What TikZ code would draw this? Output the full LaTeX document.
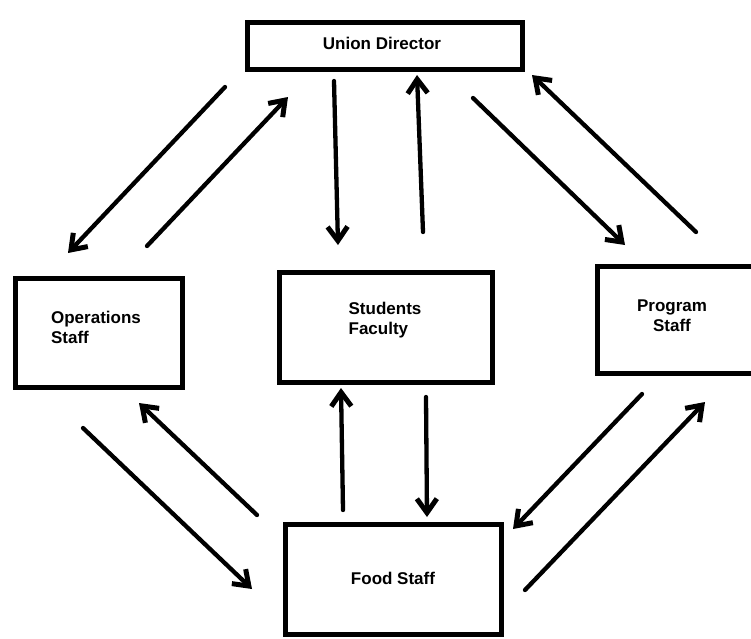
\documentclass[tikz,border=0pt]{standalone}
\usepackage{fontspec}
\setmainfont{Liberation Sans}
\usetikzlibrary{arrows.meta}
\begin{document}
\begin{tikzpicture}[x=1pt,y=-1pt,
  box/.style={draw=black, line width=5pt, fill=white, inner sep=0pt, anchor=north west},
  lbl/.style={font=\fontsize{17}{20}\selectfont\bfseries, inner sep=0pt},
  flow/.style={line width=4.3pt, line cap=round, -{Straight Barb[length=14pt,width=20pt,line width=5pt]}}]
\useasboundingbox (0,0) rectangle (751,638);
% boxes
\node[box, minimum width=275pt, minimum height=47pt] (ud) at (245,20) {};
\node[box, minimum width=167pt, minimum height=109pt] (ops) at (13,276) {};
\node[box, minimum width=213pt, minimum height=110pt] (sf) at (277,270) {};
\node[box, minimum width=165pt, minimum height=107pt] (prog) at (595,264) {};
\node[box, minimum width=216pt, minimum height=110pt] (food) at (283,522) {};
% labels
\node[lbl] (udt) at (382,43) {Union Director};
\node[lbl, align=left] (opst) at (96,327) {Operations\\Staff};
\node[lbl, align=left] (sft) at (385,320) {Students\\Faculty};
\node[lbl, align=center] (progt) at (672,316) {Program\\Staff};
\node[lbl] (foodt) at (393,578) {Food Staff};
% arrow end points
\coordinate (a1s) at (225,87);  \coordinate (a1e) at (68,253);
\coordinate (a2s) at (147,246); \coordinate (a2e) at (288,97);
\coordinate (a3s) at (334,81);  \coordinate (a3e) at (338,245);
\coordinate (a4s) at (423,232); \coordinate (a4e) at (417,75);
\coordinate (a5s) at (473,98);  \coordinate (a5e) at (625,245);
\coordinate (a6s) at (696,232); \coordinate (a6e) at (532,75);
\coordinate (a7s) at (257,515); \coordinate (a7e) at (139,403);
\coordinate (a8s) at (83,428);  \coordinate (a8e) at (252,589);
\coordinate (a9s) at (343,510); \coordinate (a9e) at (341,388);
\coordinate (a10s) at (426,397); \coordinate (a10e) at (427,517);
\coordinate (a11s) at (642,394); \coordinate (a11e) at (513,529);
\coordinate (a12s) at (525,590); \coordinate (a12e) at (705,402);
\foreach \i in {1,...,12} {\draw[flow] (a\i s) -- (a\i e);}
\end{tikzpicture}
\end{document}
